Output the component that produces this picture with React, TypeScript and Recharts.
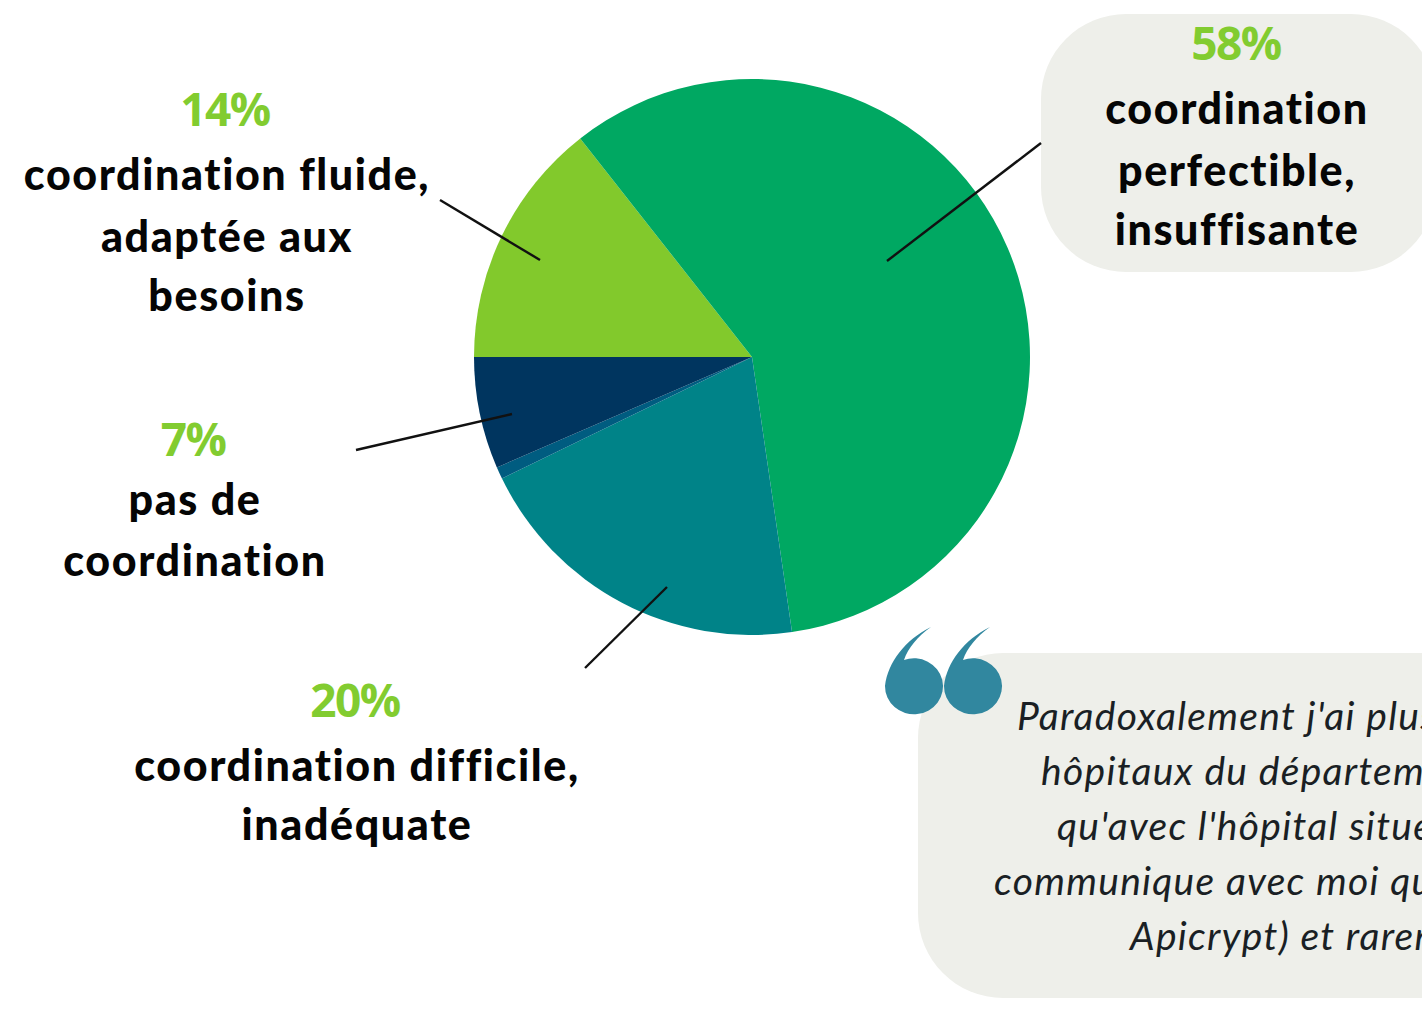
import { PieChart, Pie, Cell } from "recharts";

const sliceNames = ["fluide", "perfectible", "difficile", "autre", "aucune"];
const sliceValues = [14.4, 58.3, 20.1, 0.7, 6.5];
const sliceColors = ["#82c92c", "#00a862", "#008388", "#005c80", "#00355f"];

const data = sliceNames.map((name, i) => ({ name, value: sliceValues[i] }));

const FONT = "'Open Sans', sans-serif";
const LABEL_FONT = "Lato, sans-serif";

const percentLabels = [
  { text: "14%", x: 225, y: 126 },
  { text: "58%", x: 1236, y: 60 },
  { text: "7%", x: 193, y: 456 },
  { text: "20%", x: 355, y: 717 },
];

const boldLines = [
  { text: "coordination fluide,", x: 227, y: 190 },
  { text: "adaptée aux", x: 227, y: 252 },
  { text: "besoins", x: 227, y: 311 },
  { text: "coordination", x: 1237, y: 124 },
  { text: "perfectible,", x: 1237, y: 186 },
  { text: "insuffisante", x: 1237, y: 245 },
  { text: "pas de", x: 195, y: 515 },
  { text: "coordination", x: 195, y: 576 },
  { text: "coordination difficile,", x: 357, y: 781 },
  { text: "inadéquate", x: 357, y: 840 },
];

const leaders = [
  [440, 200, 540, 260],
  [1041, 143, 887, 261],
  [356, 450, 512, 414],
  [585, 668, 667, 587],
];

const quoteLines = [
  { text: "Paradoxalement j'ai plus", x: 1017, y: 730 },
  { text: "hôpitaux du département", x: 1041, y: 785 },
  { text: "qu'avec l'hôpital situé", x: 1057, y: 840 },
  { text: "communique avec moi qu", x: 994, y: 895 },
  { text: "Apicrypt) et rarement", x: 1130, y: 950 },
];

// one quote glyph, the second one is the same shape moved over
const QUOTE_MARK = "M931 627 C905 640 888 662 885 686 A29 28 0 1 0 904 660 C908 648 918 636 931 627 Z";

export default function App() {
  return (
    <div style={{ position: "absolute", left: 0, top: 0, width: 1422, height: 1010, overflow: "hidden", background: "#fff" }}>
      <svg width={1422} height={1010} style={{ position: "absolute", left: 0, top: 0 }}>
        <rect x={1041} y={14} width={395} height={258} rx={85} fill="#eeefea" />
        <rect x={918} y={653} width={640} height={345} rx={85} fill="#eeefea" />
      </svg>
      <div style={{ position: "absolute", left: 0, top: 0 }}>
        <PieChart width={1422} height={1010} margin={{ top: 0, right: 0, bottom: 0, left: 0 }}>
          <Pie
            data={data}
            dataKey="value"
            cx={752}
            cy={357}
            innerRadius={0}
            outerRadius={278}
            startAngle={180}
            endAngle={-180}
            stroke="none"
            isAnimationActive={false}
          >
            {data.map((d, i) => (
              <Cell key={d.name} fill={sliceColors[i]} />
            ))}
          </Pie>
        </PieChart>
      </div>
      <svg width={1422} height={1010} style={{ position: "absolute", left: 0, top: 0 }}>
        {leaders.map(([x1, y1, x2, y2], i) => (
          <line key={i} x1={x1} y1={y1} x2={x2} y2={y2} stroke="#111" strokeWidth={2.4} />
        ))}
        {percentLabels.map((p) => (
          <text key={p.text} x={p.x} y={p.y} textAnchor="middle" fontFamily={FONT} fontWeight={700} fontSize={46} letterSpacing={-1.5} fill="#82cc30">
            {p.text}
          </text>
        ))}
        {boldLines.map((l, i) => (
          <text
            key={i}
            x={l.x}
            y={l.y}
            textAnchor="middle"
            fontFamily={LABEL_FONT}
            fontWeight={900}
            fontSize={43}
            letterSpacing={1.6}
            fill="#050505"
            style={{ fontVariantLigatures: "none" }}
          >
            {l.text}
          </text>
        ))}
        {quoteLines.map((l) => (
          <text
            key={l.text}
            x={l.x}
            y={l.y}
            fontFamily={LABEL_FONT}
            fontStyle="italic"
            fontWeight={400}
            fontSize={39}
            letterSpacing={1.3}
            fill="#1a1f24"
            style={{ fontVariantLigatures: "none" }}
          >
            {l.text}
          </text>
        ))}
        <path d={QUOTE_MARK} fill="#31879f" />
        <path d={QUOTE_MARK} fill="#31879f" transform="translate(59 0)" />
      </svg>
    </div>
  );
}
